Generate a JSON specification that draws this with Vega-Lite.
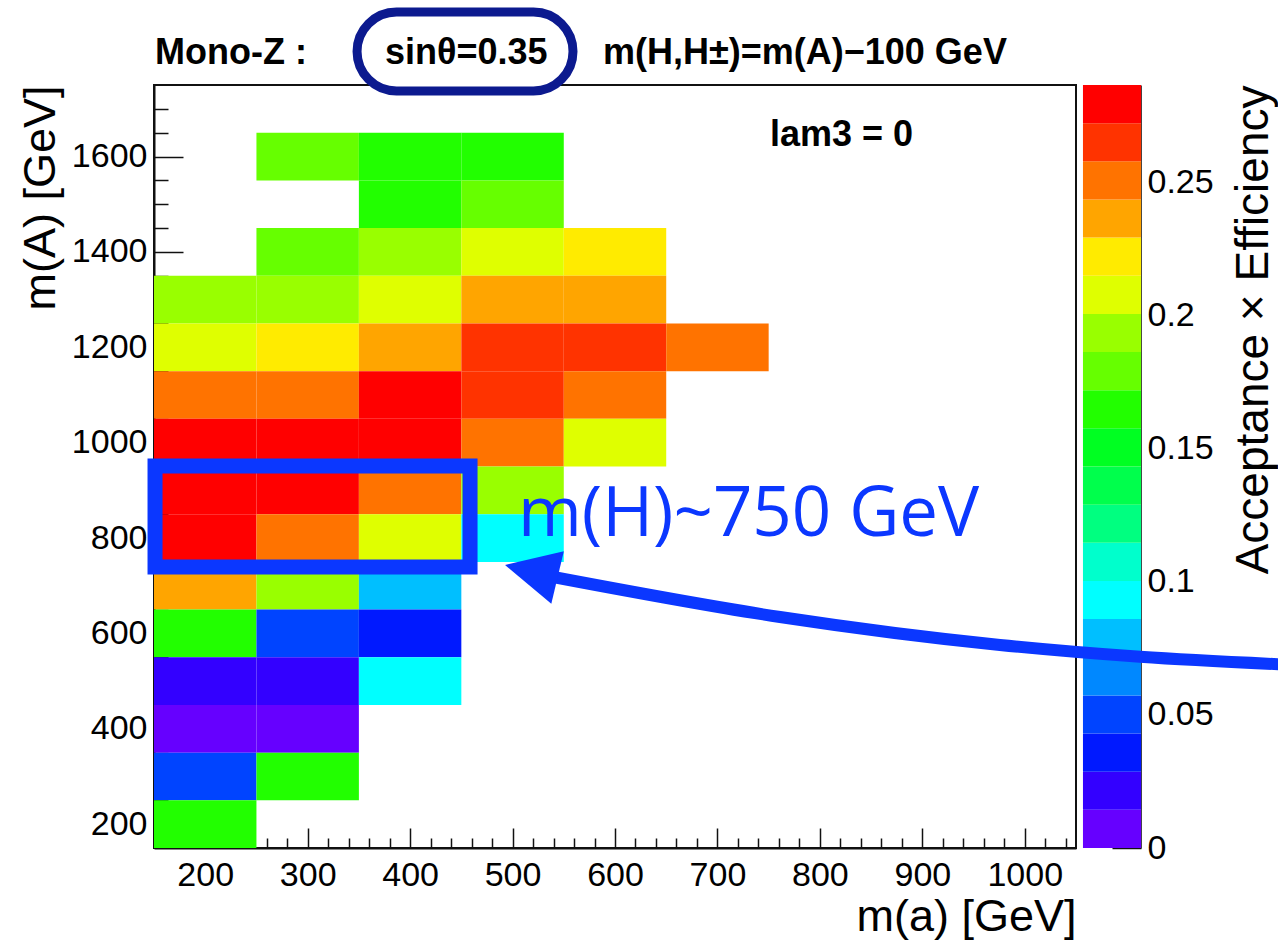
{
  "$schema": "https://vega.github.io/schema/vega-lite/v6.json",
  "width": 922,
  "height": 763,
  "autosize": {"type": "none"},
  "padding": {"left": 154, "top": 85, "right": 202, "bottom": 92},
  "background": "white",
  "config": {
    "view": {"stroke": "#111111", "strokeWidth": 2},
    "font": "Liberation Sans",
    "axis": {
      "grid": false,
      "zindex": 1,
      "labelFont": "Liberation Sans",
      "titleFont": "Liberation Sans",
      "labelColor": "black",
      "titleColor": "black",
      "labelFontSize": 34,
      "titleFontSize": 45,
      "titleFontWeight": "normal",
      "domainColor": "#111111",
      "domainWidth": 2,
      "tickColor": "#111111",
      "tickWidth": 1.5,
      "labelFlush": false,
      "labelOverlap": false
    }
  },
  "datasets": {
    "cells": [
      {"ma": 300, "mA": 1600, "eff": 0.179}, {"ma": 400, "mA": 1600, "eff": 0.165}, {"ma": 500, "mA": 1600, "eff": 0.165},
      {"ma": 400, "mA": 1500, "eff": 0.165}, {"ma": 500, "mA": 1500, "eff": 0.179},
      {"ma": 300, "mA": 1400, "eff": 0.179}, {"ma": 400, "mA": 1400, "eff": 0.194}, {"ma": 500, "mA": 1400, "eff": 0.208}, {"ma": 600, "mA": 1400, "eff": 0.222},
      {"ma": 200, "mA": 1300, "eff": 0.194}, {"ma": 300, "mA": 1300, "eff": 0.194}, {"ma": 400, "mA": 1300, "eff": 0.208}, {"ma": 500, "mA": 1300, "eff": 0.237}, {"ma": 600, "mA": 1300, "eff": 0.237},
      {"ma": 200, "mA": 1200, "eff": 0.208}, {"ma": 300, "mA": 1200, "eff": 0.222}, {"ma": 400, "mA": 1200, "eff": 0.237}, {"ma": 500, "mA": 1200, "eff": 0.265}, {"ma": 600, "mA": 1200, "eff": 0.265}, {"ma": 700, "mA": 1200, "eff": 0.251},
      {"ma": 200, "mA": 1100, "eff": 0.251}, {"ma": 300, "mA": 1100, "eff": 0.251}, {"ma": 400, "mA": 1100, "eff": 0.28}, {"ma": 500, "mA": 1100, "eff": 0.265}, {"ma": 600, "mA": 1100, "eff": 0.251},
      {"ma": 200, "mA": 1000, "eff": 0.28}, {"ma": 300, "mA": 1000, "eff": 0.28}, {"ma": 400, "mA": 1000, "eff": 0.28}, {"ma": 500, "mA": 1000, "eff": 0.251}, {"ma": 600, "mA": 1000, "eff": 0.208},
      {"ma": 200, "mA": 900, "eff": 0.28}, {"ma": 300, "mA": 900, "eff": 0.28}, {"ma": 400, "mA": 900, "eff": 0.251}, {"ma": 500, "mA": 900, "eff": 0.194},
      {"ma": 200, "mA": 800, "eff": 0.28}, {"ma": 300, "mA": 800, "eff": 0.251}, {"ma": 400, "mA": 800, "eff": 0.208}, {"ma": 500, "mA": 800, "eff": 0.093},
      {"ma": 200, "mA": 700, "eff": 0.237}, {"ma": 300, "mA": 700, "eff": 0.194}, {"ma": 400, "mA": 700, "eff": 0.079},
      {"ma": 200, "mA": 600, "eff": 0.165}, {"ma": 300, "mA": 600, "eff": 0.05}, {"ma": 400, "mA": 600, "eff": 0.036},
      {"ma": 200, "mA": 500, "eff": 0.022}, {"ma": 300, "mA": 500, "eff": 0.022}, {"ma": 400, "mA": 500, "eff": 0.093},
      {"ma": 200, "mA": 400, "eff": 0.007}, {"ma": 300, "mA": 400, "eff": 0.007},
      {"ma": 200, "mA": 300, "eff": 0.05}, {"ma": 300, "mA": 300, "eff": 0.165},
      {"ma": 200, "mA": 200, "eff": 0.165}
    ],
    "bands": [
      {"lo": 0, "hi": 0.01434}, {"lo": 0.01434, "hi": 0.02868}, {"lo": 0.02868, "hi": 0.04302}, {"lo": 0.04302, "hi": 0.05736},
      {"lo": 0.05736, "hi": 0.0717}, {"lo": 0.0717, "hi": 0.08604}, {"lo": 0.08604, "hi": 0.10038}, {"lo": 0.10038, "hi": 0.11472},
      {"lo": 0.11472, "hi": 0.12906}, {"lo": 0.12906, "hi": 0.1434}, {"lo": 0.1434, "hi": 0.15774}, {"lo": 0.15774, "hi": 0.17208},
      {"lo": 0.17208, "hi": 0.18642}, {"lo": 0.18642, "hi": 0.20076}, {"lo": 0.20076, "hi": 0.2151}, {"lo": 0.2151, "hi": 0.22944},
      {"lo": 0.22944, "hi": 0.24378}, {"lo": 0.24378, "hi": 0.25812}, {"lo": 0.25812, "hi": 0.27246}, {"lo": 0.27246, "hi": 0.2868}
    ],
    "arrow": [
      {"ma": 534.4, "mA": 720.4},
      {"ma": 761.1, "mA": 634.4},
      {"ma": 975.8, "mA": 575.7},
      {"ma": 1112.5, "mA": 550.9},
      {"ma": 1262, "mA": 534.0}
    ],
    "one": [{}]
  },
  "layer": [
    {
      "data": {"name": "cells"},
      "transform": [
        {"bin": {"extent": [150, 1050], "step": 100, "nice": false}, "field": "ma", "as": ["ma_lo", "ma_hi"]},
        {"bin": {"extent": [150, 1750], "step": 100, "nice": false}, "field": "mA", "as": ["mA_lo", "mA_hi"]}
      ],
      "mark": {"type": "rect"},
      "encoding": {
        "x": {
          "field": "ma_lo", "type": "quantitative",
          "scale": {"domain": [150, 1050], "nice": false, "zero": false},
          "axis": {
            "values": [160,180,200,220,240,260,280,300,320,340,360,380,400,420,440,460,480,500,520,540,560,580,600,620,640,660,680,700,720,740,760,780,800,820,840,860,880,900,920,940,960,980,1000,1020,1040],
            "tickCount": 100,
            "format": "d",
            "labelExpr": "datum.value % 100 === 0 ? datum.label : ''",
            "labelOverlap": false,
            "tickSize": {"condition": {"test": "datum.value % 100 === 0", "value": -20}, "value": -10},
            "labelPadding": 30,
            "title": "m(a) [GeV]",
            "titleAnchor": "end",
            "titlePadding": -8
          }
        },
        "x2": {"field": "ma_hi"},
        "y": {
          "field": "mA_lo", "type": "quantitative",
          "scale": {"domain": [150, 1750], "nice": false, "zero": false},
          "axis": {
            "values": [200,250,300,350,400,450,500,550,600,650,700,750,800,850,900,950,1000,1050,1100,1150,1200,1250,1300,1350,1400,1450,1500,1550,1600,1650,1700],
            "tickCount": 100,
            "format": "d",
            "labelExpr": "datum.value % 200 === 0 ? datum.label : ''",
            "labelOverlap": false,
            "tickSize": {"condition": {"test": "datum.value % 200 === 0", "value": -29}, "value": -14},
            "labelPadding": 36,
            "title": "m(A) [GeV]",
            "titleAnchor": "end",
            "titleAlign": "right",
            "titlePadding": 8
          }
        },
        "y2": {"field": "mA_hi"},
        "color": {
          "field": "eff", "type": "quantitative",
          "scale": {
            "type": "threshold",
            "domain": [0.01434,0.02868,0.04302,0.05736,0.0717,0.08604,0.10038,0.11472,0.12906,0.1434,0.15774,0.17208,0.18642,0.20076,0.2151,0.22944,0.24378,0.25812,0.27246],
            "range": ["#6600FF","#3300FF","#0019FF","#0044FF","#0088FF","#00BFFF","#00FFFF","#00FFCC","#00FF80","#00FF4C","#00FF22","#22FF00","#66FF00","#99FF00","#DFFF00","#FFEB00","#FFA500","#FF7300","#FF3300","#FF0000"]
          },
          "legend": null
        }
      }
    },
    {
      "data": {"name": "bands"},
      "mark": {"type": "rect", "clip": false},
      "encoding": {
        "x": {"datum": 1056.8, "type": "quantitative", "scale": {"domain": [150, 1050], "nice": false, "zero": false}},
        "x2": {"datum": 1113.5},
        "y": {
          "field": "lo", "type": "quantitative",
          "scale": {"domain": [0, 0.2868], "nice": false, "zero": false},
          "axis": {
            "orient": "right",
            "offset": 65,
            "values": [0, 0.05, 0.1, 0.15, 0.2, 0.25],
            "tickCount": 100,
            "format": "~g",
            "labelOverlap": false,
            "tickSize": -29,
            "labelPadding": 35,
            "domainWidth": 1,
            "domainColor": "#444444",
            "title": "Acceptance × Efficiency",
            "titleFontSize": 46,
            "titleAngle": 270,
            "titleAnchor": "end",
            "titleAlign": "right",
            "titleBaseline": "top",
            "titlePadding": 18
          }
        },
        "y2": {"field": "hi"},
        "color": {
          "field": "lo", "type": "quantitative",
          "scale": {
            "type": "threshold",
            "domain": [0.01434,0.02868,0.04302,0.05736,0.0717,0.08604,0.10038,0.11472,0.12906,0.1434,0.15774,0.17208,0.18642,0.20076,0.2151,0.22944,0.24378,0.25812,0.27246],
            "range": ["#6600FF","#3300FF","#0019FF","#0044FF","#0088FF","#00BFFF","#00FFFF","#00FFCC","#00FF80","#00FF4C","#00FF22","#22FF00","#66FF00","#99FF00","#DFFF00","#FFEB00","#FFA500","#FF7300","#FF3300","#FF0000"]
          },
          "legend": null
        }
      }
    },
    {
      "layer": [
        {
          "data": {"name": "one"},
          "mark": {"type": "rect", "fill": "white", "stroke": "#0C1A8F", "strokeWidth": 9, "cornerRadius": 42, "clip": false},
          "encoding": {
            "x": {"datum": 348.2, "type": "quantitative", "scale": {"domain": [150, 1050], "nice": false, "zero": false}},
            "x2": {"datum": 559.0},
            "y": {"datum": 1903.1, "type": "quantitative", "scale": {"domain": [150, 1750], "nice": false, "zero": false}, "axis": null},
            "y2": {"datum": 1737.4}
          }
        },
        {
          "data": {"name": "one"},
          "mark": {"type": "text", "text": "Mono-Z :", "font": "Liberation Sans", "fontWeight": "bold", "fontSize": 36, "align": "left", "baseline": "alphabetic", "color": "black", "clip": false},
          "encoding": {
            "x": {"datum": 151, "type": "quantitative", "scale": {"domain": [150, 1050], "nice": false, "zero": false}},
            "y": {"datum": 1793, "type": "quantitative", "scale": {"domain": [150, 1750], "nice": false, "zero": false}, "axis": null}
          }
        },
        {
          "data": {"name": "one"},
          "mark": {"type": "text", "text": "sinθ=0.35", "font": "Liberation Sans", "fontWeight": "bold", "fontSize": 36, "align": "left", "baseline": "alphabetic", "color": "black", "clip": false},
          "encoding": {
            "x": {"datum": 375.5, "type": "quantitative", "scale": {"domain": [150, 1050], "nice": false, "zero": false}},
            "y": {"datum": 1793, "type": "quantitative", "scale": {"domain": [150, 1750], "nice": false, "zero": false}, "axis": null}
          }
        },
        {
          "data": {"name": "one"},
          "mark": {"type": "text", "text": "m(H,H±)=m(A)−100 GeV", "font": "Liberation Sans", "fontWeight": "bold", "fontSize": 36, "align": "left", "baseline": "alphabetic", "color": "black", "clip": false},
          "encoding": {
            "x": {"datum": 588.3, "type": "quantitative", "scale": {"domain": [150, 1050], "nice": false, "zero": false}},
            "y": {"datum": 1793, "type": "quantitative", "scale": {"domain": [150, 1750], "nice": false, "zero": false}, "axis": null}
          }
        },
        {
          "data": {"name": "one"},
          "mark": {"type": "text", "text": "lam3 = 0", "font": "Liberation Sans", "fontWeight": "bold", "fontSize": 36, "align": "left", "baseline": "alphabetic", "color": "black", "clip": false},
          "encoding": {
            "x": {"datum": 751.3, "type": "quantitative", "scale": {"domain": [150, 1050], "nice": false, "zero": false}},
            "y": {"datum": 1622, "type": "quantitative", "scale": {"domain": [150, 1750], "nice": false, "zero": false}, "axis": null}
          }
        },
        {
          "data": {"name": "one"},
          "mark": {"type": "rect", "filled": false, "stroke": "#0B37FF", "strokeWidth": 15, "clip": false},
          "encoding": {
            "x": {"datum": 151.0, "type": "quantitative", "scale": {"domain": [150, 1050], "nice": false, "zero": false}},
            "x2": {"datum": 458.5},
            "y": {"datum": 739.2, "type": "quantitative", "scale": {"domain": [150, 1750], "nice": false, "zero": false}, "axis": null},
            "y2": {"datum": 951.0}
          }
        },
        {
          "data": {"name": "arrow"},
          "mark": {"type": "line", "color": "#0B37FF", "strokeWidth": 12, "interpolate": "monotone", "strokeCap": "butt", "clip": false},
          "encoding": {
            "x": {"field": "ma", "type": "quantitative", "scale": {"domain": [150, 1050], "nice": false, "zero": false}},
            "y": {"field": "mA", "type": "quantitative", "scale": {"domain": [150, 1750], "nice": false, "zero": false}, "axis": null}
          }
        },
        {
          "data": {"name": "one"},
          "mark": {"type": "point", "shape": "M 1 0 L -1 -1 L -1 1 Z", "filled": true, "color": "#0B37FF", "opacity": 1, "size": 2916, "angle": 193.4, "clip": false},
          "encoding": {
            "x": {"datum": 518.3, "type": "quantitative", "scale": {"domain": [150, 1050], "nice": false, "zero": false}},
            "y": {"datum": 730.3, "type": "quantitative", "scale": {"domain": [150, 1750], "nice": false, "zero": false}, "axis": null}
          }
        },
        {
          "data": {"name": "one"},
          "mark": {"type": "text", "text": "m(H)~750 GeV", "font": "Open Sans", "fontSize": 69, "align": "left", "baseline": "alphabetic", "color": "#0B37FF", "clip": false},
          "encoding": {
            "x": {"datum": 505.3, "type": "quantitative", "scale": {"domain": [150, 1050], "nice": false, "zero": false}},
            "y": {"datum": 804.3, "type": "quantitative", "scale": {"domain": [150, 1750], "nice": false, "zero": false}, "axis": null}
          }
        }
      ]
    }
  ],
  "resolve": {"scale": {"y": "independent"}}
}
